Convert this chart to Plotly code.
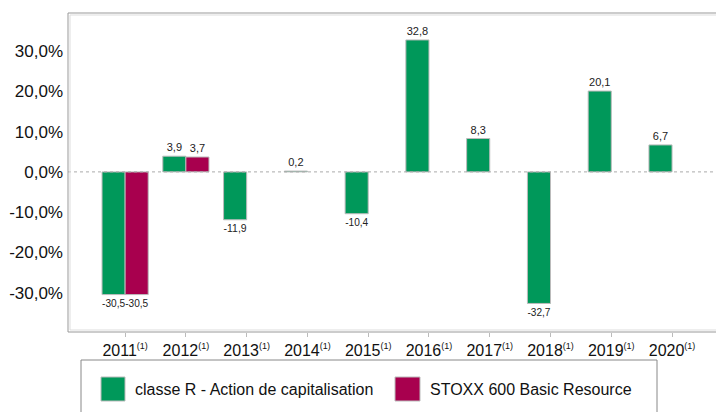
import plotly.graph_objects as go

years = ["2011", "2012", "2013", "2014", "2015", "2016", "2017", "2018", "2019", "2020"]
tick_labels = [y + "<sup><span style='font-size:9px'>(1)</span></sup>" for y in years]
fund = [-30.5, 3.9, -11.9, 0.2, -10.4, 32.8, 8.3, -32.7, 20.1, 6.7]
bench = [-30.5, 3.7, None, None, None, None, None, None, None, None]
names = ["classe R - Action de capitalisation", "STOXX 600 Basic Resource"]
colors = ["#00985A", "#A8004E"]
y_ticks = [-30, -20, -10, 0, 10, 20, 30]
y_tick_text = ["-30,0%", "-20,0%", "-10,0%", "0,0%", "10,0%", "20,0%", "30,0%"]

# page body has an 8px default margin: compensate in layout (figure fits window)
OFF = 8
W, H = 724 - OFF, 412 - OFF
L, R, T, B = 68 - OFF, 0, 13 - OFF, H - (332 - OFF)
PW, PH = W - L - R, H - T - B

def px(x):  # window pixel -> paper x
    return (x - OFF - L) / PW

def py(y):  # window pixel -> paper y
    return (H - B - (y - OFF)) / PH

fig = go.Figure()
for vals, name, col in zip([fund, bench], names, colors):
    fig.add_trace(go.Bar(
        x=list(range(len(years))), y=vals, name=name,
        marker=dict(color=col, line=dict(color="#BBBBBB", width=1)),
        texttemplate="%{y:.1f}", textposition="outside",
        textfont=dict(size=11, color="#222222", family="Liberation Sans, Arial"),
        cliponaxis=False, showlegend=False,
    ))

shapes = [
    dict(type="line", xref="paper", yref="y", x0=0, x1=1, y0=0, y1=0,
         line=dict(color="#AAAAAA", width=1, dash="dot")),
    dict(type="line", xref="paper", yref="paper", x0=px(68), x1=1.01, y0=py(13), y1=py(13),
         line=dict(color="#999999", width=1)),
    dict(type="line", xref="paper", yref="paper", x0=px(70), x1=1.01, y0=py(15), y1=py(15),
         line=dict(color="#DDDDDD", width=1)),
    dict(type="line", xref="paper", yref="paper", x0=px(68), x1=px(68), y0=py(13), y1=py(332),
         line=dict(color="#999999", width=1)),
    dict(type="line", xref="paper", yref="paper", x0=px(70), x1=px(70), y0=py(15), y1=py(330),
         line=dict(color="#DDDDDD", width=1)),
    dict(type="line", xref="paper", yref="paper", x0=px(68), x1=1.01, y0=py(332), y1=py(332),
         line=dict(color="#999999", width=1)),
    dict(type="line", xref="paper", yref="paper", x0=px(70), x1=1.01, y0=py(330), y1=py(330),
         line=dict(color="#DDDDDD", width=1)),
    dict(type="rect", xref="paper", yref="paper", x0=px(81), x1=px(657), y0=py(430), y1=py(360),
         line=dict(color="#888888", width=1), fillcolor="rgba(0,0,0,0)"),
    dict(type="rect", xref="paper", yref="paper", x0=px(101), x1=px(125), y0=py(401), y1=py(377),
         line=dict(color="#BBBBBB", width=1), fillcolor=colors[0]),
    dict(type="rect", xref="paper", yref="paper", x0=px(395), x1=px(420), y0=py(401), y1=py(377),
         line=dict(color="#BBBBBB", width=1), fillcolor=colors[1]),
]

annotations = [
    dict(xref="paper", yref="paper", x=px(133), y=py(389), text=names[0], showarrow=False,
         xanchor="left", yanchor="middle", font=dict(size=16, color="#111111")),
    dict(xref="paper", yref="paper", x=px(428), y=py(389), text=names[1], showarrow=False,
         xanchor="left", yanchor="middle", font=dict(size=16, color="#111111")),
]

fig.update_layout(
    width=W, height=H,
    margin=dict(l=L, r=R, t=T, b=B, autoexpand=False),
    paper_bgcolor="white", plot_bgcolor="white",
    barmode="group", bargap=0.24, bargroupgap=0,
    separators=", ",
    font=dict(family="Liberation Sans, Arial", color="#111111"),
    shapes=shapes, annotations=annotations,
    showlegend=False,
    xaxis=dict(
        tickmode="array", tickvals=list(range(len(years))), ticktext=tick_labels,
        range=[-0.94, 9.855], showgrid=False, zeroline=False, showline=False,
        ticks="outside", ticklen=4, tickcolor="#BBBBBB",
        tickfont=dict(size=16, color="#111111"), automargin=False,
    ),
    yaxis=dict(
        range=[-39.8, 39.5], tickmode="array", tickvals=y_ticks, ticktext=y_tick_text,
        showgrid=False, zeroline=False, showline=False,
        ticks="", ticklabelstandoff=4, automargin=False,
        tickfont=dict(size=17, color="#111111"),
    ),
)

fig.write_html("out.html")
